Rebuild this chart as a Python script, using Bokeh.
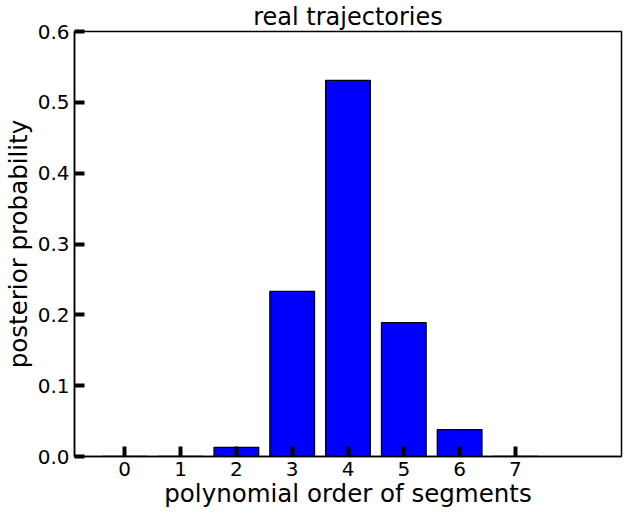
from bokeh.plotting import figure
from bokeh.models import FixedTicker, Range1d, CustomJSTickFormatter
from bokeh.embed import file_html
from bokeh.resources import INLINE

orders = [0, 1, 2, 3, 4, 5, 6, 7]
probs = [0.0, 0.0, 0.013, 0.233, 0.531, 0.189, 0.038, 0.0]
y_ticks = [0.0, 0.1, 0.2, 0.3, 0.4, 0.5, 0.6]
title_text = "real trajectories"
x_label = "polynomial order of segments"
y_label = "posterior probability"

FONT = "DejaVu Sans"

p = figure(width=623, height=513, output_backend="svg", toolbar_location=None,
           x_range=Range1d(-0.9, 8.9), y_range=Range1d(0, 0.6),
           title=title_text,
           min_border_left=72, min_border_right=2, min_border_top=31, min_border_bottom=57)

p.title.text_font = FONT
p.title.text_font_size = "24px"
p.title.text_font_style = "normal"
p.title.text_color = "black"
p.title.align = "center"
p.title.standoff = 1
p.title.offset = 0

p.vbar(x=orders, top=probs, width=0.8, bottom=0, fill_color="#0000ff",
       line_color="black", line_width=1.3)

p.grid.visible = False
p.outline_line_color = "black"
p.outline_line_width = 1.5
p.outline_line_alpha = 1.0

for ax in (p.xaxis[0], p.yaxis[0]):
    ax.axis_line_color = "black"
    ax.axis_line_width = 1.5
    ax.major_tick_in = 10
    ax.major_tick_out = 0
    ax.major_tick_line_width = 4
    ax.major_tick_line_color = "black"
    ax.minor_tick_line_color = None
    ax.major_label_text_font = FONT
    ax.major_label_text_font_size = "20px"
    ax.major_label_text_color = "black"
    ax.axis_label_text_font = FONT
    ax.axis_label_text_font_size = "24.5px"
    ax.axis_label_text_font_style = "normal"
    ax.axis_label_text_color = "black"

p.xaxis.ticker = FixedTicker(ticks=orders)
p.yaxis.ticker = FixedTicker(ticks=y_ticks)
p.yaxis.formatter = CustomJSTickFormatter(code="return tick.toFixed(1);")
p.xaxis.major_label_standoff = 5
p.yaxis.major_label_standoff = 5
p.xaxis.axis_label = x_label
p.yaxis.axis_label = y_label
p.xaxis.axis_label_standoff = 0
p.yaxis.axis_label_standoff = 2

open("out.html", "w").write(file_html(p, INLINE))
